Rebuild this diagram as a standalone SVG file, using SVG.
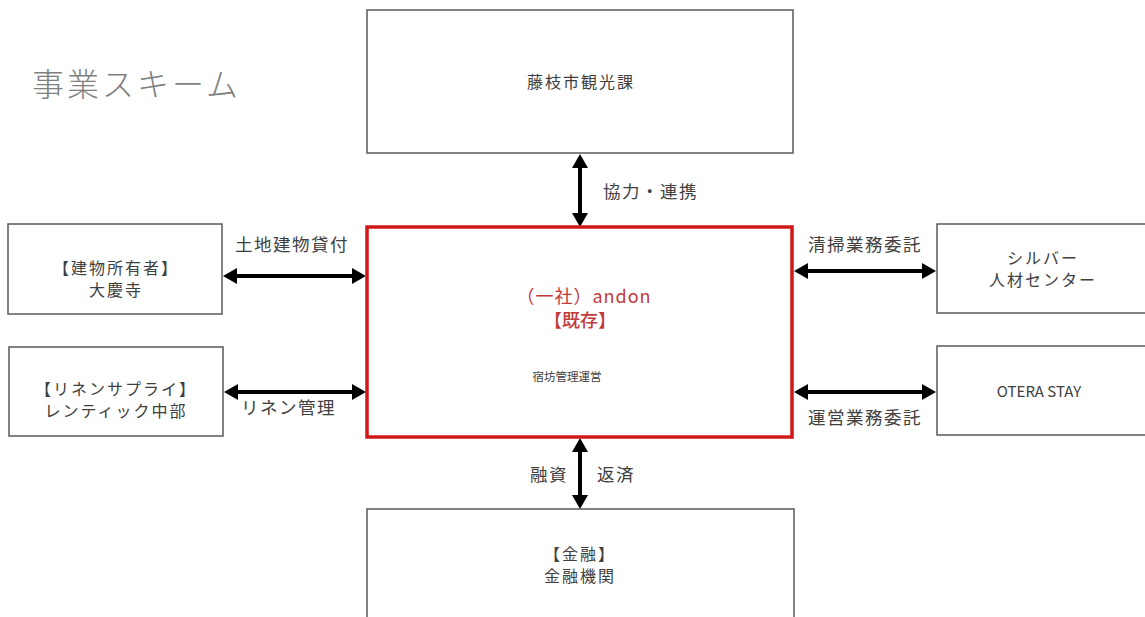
<svg xmlns="http://www.w3.org/2000/svg" width="1145" height="617" viewBox="0 0 1145 617">
<style>
.box{fill:#fff;stroke:#595959;stroke-width:1.5}
.main{fill:#fff;stroke:#d01818;stroke-width:3.5}
.t{font-family:"Noto Sans CJK JP","Noto Sans",sans-serif;fill:#404040;text-anchor:middle}
.bt{font-size:16px;letter-spacing:2px}
.lb{font-size:17.5px;letter-spacing:1.5px;text-anchor:start}
.red{fill:#c23b3b}
.conn{stroke:#000;stroke-width:4;fill:none;marker-start:url(#ah);marker-end:url(#ah)}
</style>
<defs>
<marker id="ah" viewBox="0 0 14 16" refX="4" refY="8" markerWidth="14" markerHeight="16" markerUnits="userSpaceOnUse" orient="auto-start-reverse">
<path d="M0,0 L14,8 L0,16 z" fill="#000"/>
</marker>
</defs>
<rect width="1145" height="617" fill="#fff"/>
<text x="32" y="96" class="t" style="font-size:32px;letter-spacing:3px;text-anchor:start;fill:#7f7f7f;font-weight:300">事業スキーム</text>

<g id="connectors">
<line class="conn" x1="580" y1="164" x2="580" y2="217"/>
<line class="conn" x1="233" y1="276" x2="356" y2="276"/>
<line class="conn" x1="234" y1="392" x2="356" y2="392"/>
<line class="conn" x1="804" y1="271" x2="926" y2="271"/>
<line class="conn" x1="804" y1="392" x2="926" y2="392"/>
<line class="conn" x1="580" y1="448" x2="580" y2="499"/>
<text x="603" y="198" class="t lb">協力・連携</text>
<text x="235" y="251" class="t lb">土地建物貸付</text>
<text x="241" y="414" class="t lb">リネン管理</text>
<text x="808" y="251" class="t lb">清掃業務委託</text>
<text x="808" y="424" class="t lb">運営業務委託</text>
<text x="530" y="481" class="t lb">融資</text>
<text x="597" y="481" class="t lb">返済</text>
</g>

<g id="kankouka">
<rect class="box" x="367" y="10" width="426" height="143"/>
<text x="581" y="88" class="t bt">藤枝市観光課</text>
</g>

<g id="andon">
<rect class="main" x="367" y="227" width="425" height="210"/>
<text x="584" y="303" class="t red" style="font-size:18px;letter-spacing:1px">（一社）andon</text>
<text x="580" y="327" class="t red" style="font-size:18px;font-weight:500">【既存】</text>
<text x="567" y="381" class="t" style="font-size:11.5px">宿坊管理運営</text>
</g>

<g id="owner">
<rect class="box" x="8" y="224" width="214" height="90"/>
<text x="116" y="274" class="t bt">【建物所有者】</text>
<text x="116" y="296" class="t bt">大慶寺</text>
</g>

<g id="linen">
<rect class="box" x="9" y="347" width="214" height="89"/>
<text x="116" y="395" class="t bt">【リネンサプライ】</text>
<text x="116" y="417" class="t bt">レンティック中部</text>
</g>

<g id="silver">
<rect class="box" x="937" y="224" width="212" height="89"/>
<text x="1043" y="264" class="t bt">シルバー</text>
<text x="1043" y="286" class="t bt">人材センター</text>
</g>

<g id="otera">
<rect class="box" x="937" y="346" width="212" height="89"/>
<text x="1039" y="397" class="t" style="font-size:15px">OTERA STAY</text>
</g>

<g id="kinyu">
<rect class="box" x="367" y="509" width="427" height="120"/>
<text x="580" y="560" class="t bt">【金融】</text>
<text x="580" y="582" class="t bt">金融機関</text>
</g>
</svg>
